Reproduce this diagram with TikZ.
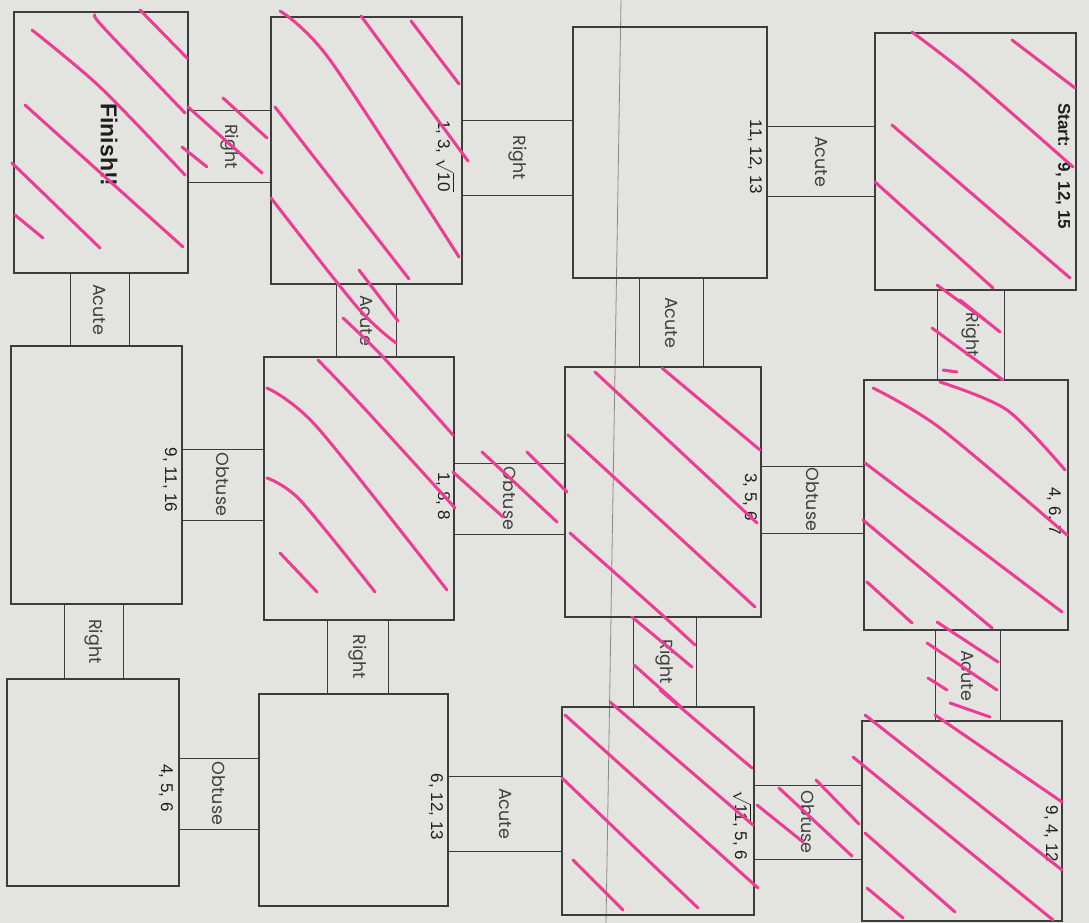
\documentclass[tikz,border=0pt]{standalone}
\usepackage{amsmath}
\usepackage{fontspec}
\setmainfont{Liberation Sans}
\newfontfamily\gothic{Poppins}
\usetikzlibrary{fit}

\definecolor{paper}{HTML}{E3E3E0}
\definecolor{linegray}{HTML}{3C3C3C}
\definecolor{inkgray}{HTML}{1E1E1E}
\definecolor{foldgray}{HTML}{8A8A88}
\definecolor{hotpink}{HTML}{EC3D92}

\begin{document}
\begin{tikzpicture}[x=1pt,y=-1pt]
    % Photo of a worksheet turned on its side: a triangle maze.
    % Twelve boxes (side lengths), joined by bridges (triangle type).

    \tikzset{
      box/.style={draw=linegray, line width=1.1pt, inner sep=0pt},
      bridge/.style={draw=linegray, line width=1pt, inner sep=0pt},
      num/.style={rotate=-90, text=inkgray, font=\fontsize{17}{20}\selectfont},
      kind/.style={rotate=-90, text=inkgray!85, font=\gothic\fontsize{17.5}{20}\selectfont},
      ink/.style={draw=hotpink, line width=3pt, line cap=round, line join=round},
      fold/.style={draw=foldgray, line width=0.8pt}
    }

    \useasboundingbox (0,0) rectangle (1089,923);
    \fill[paper] (0,0) rectangle (1089,923);
    \draw[fold] (621,0) -- (606,923);

    % --- Bridges between the columns (one row at a time)
    \node[bridge, fit={(767,127) (875,196)}] (acuteA) {};
    \node[bridge, fit={(462,121) (573,195)}] (rightA) {};
    \node[bridge, fit={(188,111) (271,182)}] (rightB) {};
    \node[bridge, fit={(761,466) (864,533)}] (obtuseA) {};
    \node[bridge, fit={(454,463) (565,534)}] (obtuseB) {};
    \node[bridge, fit={(182,449) (264,520)}] (obtuseC) {};
    \node[bridge, fit={(754,785) (862,859)}] (obtuseD) {};
    \node[bridge, fit={(448,776) (562,851)}] (acuteB) {};
    \node[bridge, fit={(179,758) (259,829)}] (obtuseE) {};

    % --- Bridges between the rows (one column at a time)
    \node[bridge, fit={(937,290) (1004,380)}] (rightC) {};
    \node[bridge, fit={(935,630) (1000,721)}] (acuteC) {};
    \node[bridge, fit={(639,278) (703,367)}] (acuteD) {};
    \node[bridge, fit={(633,617) (696,707)}] (rightD) {};
    \node[bridge, fit={(336,284) (396,357)}] (acuteE) {};
    \node[bridge, fit={(327,620) (388,694)}] (rightE) {};
    \node[bridge, fit={(70,273) (129,346)}] (acuteF) {};
    \node[bridge, fit={(64,604) (123,679)}] (rightF) {};

    \node[kind] (acuteAtxt) at (acuteA) {Acute};
    \node[kind] (rightAtxt) at (rightA) {Right};
    \node[kind] (rightBtxt) at (rightB) {Right};
    \node[kind] (obtuseAtxt) at (obtuseA) {Obtuse};
    \node[kind] (obtuseBtxt) at (obtuseB) {Obtuse};
    \node[kind] (obtuseCtxt) at (obtuseC) {Obtuse};
    \node[kind] (obtuseDtxt) at (obtuseD) {Obtuse};
    \node[kind] (acuteBtxt) at (acuteB) {Acute};
    \node[kind] (obtuseEtxt) at (obtuseE) {Obtuse};
    \node[kind] (rightCtxt) at (rightC) {Right};
    \node[kind] (acuteCtxt) at (acuteC) {Acute};
    \node[kind] (acuteDtxt) at (acuteD) {Acute};
    \node[kind] (rightDtxt) at (rightD) {Right};
    \node[kind] (acuteEtxt) at (acuteE) {Acute};
    \node[kind] (rightEtxt) at (rightE) {Right};
    \node[kind] (acuteFtxt) at (acuteF) {Acute};
    \node[kind] (rightFtxt) at (rightF) {Right};

    % --- Boxes, top row (right to left)
    \node[box, fit={(875,33) (1076,290)}] (start) {};
    \node[box, fit={(573,27) (767,278)}] (boxB) {};
    \node[box, fit={(271,17) (462,284)}] (boxC) {};
    \node[box, fit={(14,12) (188,273)}] (finish) {};
    % --- middle row
    \node[box, fit={(864,380) (1068,630)}] (boxE) {};
    \node[box, fit={(565,367) (761,617)}] (boxF) {};
    \node[box, fit={(264,357) (454,620)}] (boxG) {};
    \node[box, fit={(11,346) (182,604)}] (boxH) {};
    % --- bottom row
    \node[box, fit={(862,721) (1062,921)}] (boxI) {};
    \node[box, fit={(562,707) (754,915)}] (boxJ) {};
    \node[box, fit={(259,694) (448,906)}] (boxK) {};
    \node[box, fit={(7,679) (179,886)}] (boxL) {};

    \node[num, font=\bfseries\fontsize{17}{20}\selectfont] (starttxt) at (1063,166) {Start:\hspace{0.9em}9, 12, 15};
    \node[num] (boxBtxt) at (755,157) {11, 12, 13};
    \node[num] (boxCtxt) at (445,156) {1, 3, $\sqrt{\text{10}}$};
    \node[num, font=\bfseries\fontsize{23}{26}\selectfont] (finishtxt) at (109,145) {Finish!!};
    \node[num] (boxEtxt) at (1054,511) {4, 6, 7};
    \node[num] (boxFtxt) at (750,497) {3, 5, 6};
    \node[num] (boxGtxt) at (443,496) {1, 8, 8};
    \node[num] (boxHtxt) at (170,480) {9, 11, 16};
    \node[num] (boxItxt) at (1051,834) {9, 4, 12};
    \node[num] (boxJtxt) at (742,825) {$\sqrt{\text{11}}$, 5, 6};
    \node[num] (boxKtxt) at (436,807) {6, 12, 13};
    \node[num] (boxLtxt) at (166,788) {4, 5, 6};

    % --- Pink crossing-out along the solved path
    % Start
    \draw[ink] plot[smooth] coordinates {(912,32) (970,77) (1073,167)};
    \draw[ink] (1012,40) -- (1075,88);
    \draw[ink] (892,125) -- (1070,278);
    \draw[ink] (875,182) -- (993,288);
    \draw[ink] (937,285) -- (985,320);
    \draw[ink] (960,300) -- (1000,332);
    \draw[ink] (932,328) -- (1003,380);
    \draw[ink] (943,370) -- (957,372);
    % 4, 6, 7
    \draw[ink] plot[smooth] coordinates {(873,388) (940,428) (1067,535)};
    \draw[ink] plot[smooth] coordinates {(940,382) (1007,410) (1065,470)};
    \draw[ink] (865,463) -- (1062,612);
    \draw[ink] (863,520) -- (992,628);
    \draw[ink] (867,582) -- (912,623);
    \draw[ink] (937,622) -- (998,662);
    \draw[ink] (927,643) -- (997,690);
    \draw[ink] (928,678) -- (947,690);
    \draw[ink] (950,703) -- (990,717);
    % 9, 4, 12
    \draw[ink] (935,715) -- (1062,802);
    \draw[ink] (865,715) -- (1062,870);
    \draw[ink] (853,757) -- (1053,920);
    \draw[ink] (865,833) -- (955,912);
    \draw[ink] (867,888) -- (903,918);
    \draw[ink] (816,780) -- (859,824);
    \draw[ink] (779,788) -- (852,856);
    \draw[ink] (757,805) -- (803,842);
    % sqrt 11, 5, 6
    \draw[ink] plot[smooth] coordinates {(660,690) (680,707) (752,768)};
    \draw[ink] (610,702) -- (753,825);
    \draw[ink] (565,715) -- (758,888);
    \draw[ink] (562,778) -- (698,908);
    \draw[ink] (573,860) -- (623,910);
    \draw[ink] (632,617) -- (692,667);
    \draw[ink] (634,665) -- (681,707);
    % 3, 5, 6
    \draw[ink] (662,368) -- (760,450);
    \draw[ink] (595,372) -- (757,523);
    \draw[ink] (568,435) -- (755,607);
    \draw[ink] plot[smooth] coordinates {(570,533) (660,613) (695,645)};
    \draw[ink] (453,472) -- (503,517);
    \draw[ink] (482,452) -- (557,522);
    \draw[ink] (527,452) -- (567,492);
    % 1, 8, 8
    \draw[ink] plot[smooth] coordinates {(343,318) (383,357) (453,435)};
    \draw[ink] plot[smooth] coordinates {(318,360) (363,407) (455,508)};
    \draw[ink] plot[smooth] coordinates {(267,388) (317,427) (447,590)};
    \draw[ink] plot[smooth] coordinates {(267,478) (300,500) (375,592)};
    \draw[ink] (280,553) -- (317,592);
    % 1, 3, sqrt 10
    \draw[ink] plot[smooth] coordinates {(280,11) (330,60) (459,257)};
    \draw[ink] (361,16) -- (468,161);
    \draw[ink] (411,21) -- (459,84);
    \draw[ink] (275,107) -- (409,279);
    \draw[ink] plot[smooth] coordinates {(271,198) (357,307) (396,343)};
    \draw[ink] (359,270) -- (398,321);
    \draw[ink] (182,147) -- (207,167);
    \draw[ink] (188,107) -- (262,173);
    \draw[ink] (223,98) -- (267,138);
    % Finish
    \draw[ink] (140,10) -- (187,58);
    \draw[ink] plot[smooth] coordinates {(95,15) (103,27) (185,113)};
    \draw[ink] plot[smooth] coordinates {(32,30) (100,87) (185,175)};
    \draw[ink] (25,105) -- (183,247);
    \draw[ink] (12,163) -- (100,248);
    \draw[ink] (15,215) -- (43,238);
\end{tikzpicture}
\end{document}
